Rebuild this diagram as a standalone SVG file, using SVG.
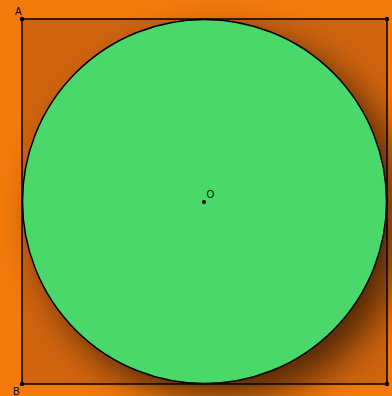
<svg xmlns="http://www.w3.org/2000/svg" width="392" height="396" viewBox="0 0 392 396">
<style>
.lbl{font-family:"Liberation Sans",Arial,sans-serif;font-size:10px;fill:#000}
.pt{fill:#000}
</style>
<defs>
<filter id="sh" x="-40%" y="-40%" width="180%" height="180%">
<feGaussianBlur stdDeviation="19"/>
</filter>
</defs>
<rect x="0" y="0" width="392" height="396" fill="#f47a0c"/>
<g id="square">
<rect x="22" y="19" width="365" height="365" fill="#d1650f" stroke="#000" stroke-width="1.5"/>
<circle class="pt" cx="22" cy="19" r="2.2"/>
<circle class="pt" cx="22" cy="384" r="2.2"/>
<circle class="pt" cx="387" cy="19" r="2.2"/>
<circle class="pt" cx="387" cy="384" r="2.2"/>
</g>
<g id="shadow">
<circle cx="221" cy="218" r="182" fill="#000" opacity="0.62" filter="url(#sh)"/>
</g>
<g id="circle">
<circle cx="204.5" cy="201.5" r="182" fill="#4ad86b" stroke="#000" stroke-width="1.5"/>
</g>
<g id="center">
<circle class="pt" cx="204" cy="202" r="2"/>
<text class="lbl" x="206.5" y="198">O</text>
</g>
<g id="labels">
<text class="lbl" x="15" y="15">A</text>
<text class="lbl" x="13" y="395">B</text>
</g>
</svg>
